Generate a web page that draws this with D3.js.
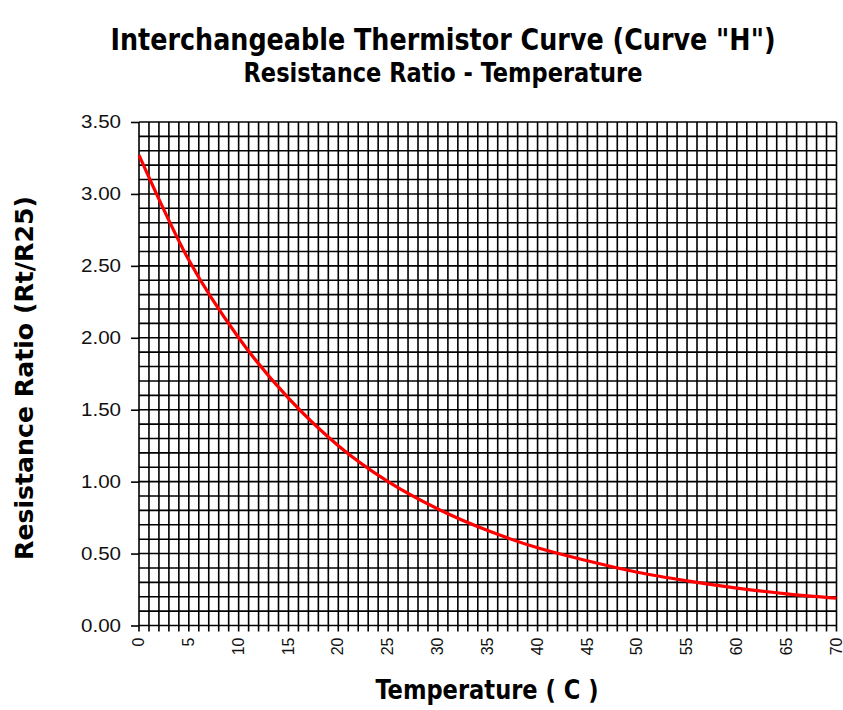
<!DOCTYPE html>
<html>
<head>
<meta charset="utf-8">
<script src="https://cdn.jsdelivr.net/npm/d3@7"></script>
<style>
  html, body { margin: 0; padding: 0; background: #fff; }
  svg { display: block; }
</style>
</head>
<body>
<div id="chart"></div>
<script>
'use strict';

// ─── DATA ────────────────────────────────────────────────────
var temperatures = [0, 5, 10, 15, 20, 25, 30, 35, 40, 45, 50, 55, 60, 65, 70];
var ratios = [3.27, 2.54, 2.00, 1.58, 1.25, 1.00, 0.81, 0.66, 0.54, 0.45, 0.37, 0.31, 0.26, 0.22, 0.19];
var yTickValues = [0, 0.5, 1.0, 1.5, 2.0, 2.5, 3.0, 3.5];
var xLabelValues = [0, 5, 10, 15, 20, 25, 30, 35, 40, 45, 50, 55, 60, 65, 70];

var titleText = 'Interchangeable Thermistor Curve (Curve "H")';
var subtitleText = 'Resistance Ratio - Temperature';
var xAxisTitle = 'Temperature ( C )';
var yAxisTitle = 'Resistance Ratio (Rt/R25)';

// ─── LAYOUT ──────────────────────────────────────────────────
var width = 843, height = 710;
var margin = { top: 122, right: 6.5, bottom: 84.5, left: 139 };
var innerW = width - margin.left - margin.right;
var innerH = height - margin.top - margin.bottom;
var font = 'Liberation Sans, Arial, sans-serif';
var narrow = '"Liberation Sans Narrow", "DejaVu Sans Condensed", "Liberation Sans", sans-serif';

var svg = d3.select('#chart').append('svg')
    .attr('width', width)
    .attr('height', height);

var x = d3.scaleLinear().domain([0, 70]).range([0, innerW]);
var y = d3.scaleLinear().domain([0, 3.5]).range([innerH, 0]);

var g = svg.append('g')
    .attr('transform', 'translate(' + margin.left + ',' + margin.top + ')');

// ─── GRID ────────────────────────────────────────────────────
// vertical every 1 degree (runs past the bottom as minor ticks), horizontal every 0.1
var xGrid = d3.range(0, 71, 1);
var yGrid = d3.range(0, 36, 1).map(function(d) { return d / 10; });

g.append('g').attr('class', 'grid-v')
    .selectAll('line').data(xGrid).enter().append('line')
    .attr('x1', function(d) { return x(d); })
    .attr('x2', function(d) { return x(d); })
    .attr('y1', 0).attr('y2', innerH + 6)
    .attr('stroke', '#000').attr('stroke-width', 1.6);

g.append('g').attr('class', 'grid-h')
    .selectAll('line').data(yGrid).enter().append('line')
    .attr('x1', 0).attr('x2', innerW)
    .attr('y1', function(d) { return y(d); })
    .attr('y2', function(d) { return y(d); })
    .attr('stroke', '#000').attr('stroke-width', 1.6);

// ─── AXES ────────────────────────────────────────────────────
var yAxis = d3.axisLeft(y)
    .tickValues(yTickValues)
    .tickSize(8)
    .tickPadding(10)
    .tickFormat(d3.format('.2f'));

var yG = g.append('g').call(yAxis);
yG.select('.domain').remove();
yG.selectAll('line').attr('stroke', '#000').attr('stroke-width', 1.6);
yG.selectAll('text')
    .attr('font-family', font)
    .attr('font-size', 18)
    .attr('fill', '#111')
    .attr('textLength', 40)
    .attr('lengthAdjust', 'spacingAndGlyphs');

var xAxis = d3.axisBottom(x)
    .tickValues(xLabelValues)
    .tickSize(0)
    .tickPadding(0);

var xG = g.append('g')
    .attr('transform', 'translate(0,' + innerH + ')')
    .call(xAxis);
xG.select('.domain').remove();
xG.selectAll('text')
    .attr('font-family', font)
    .attr('font-size', 16)
    .attr('fill', '#111')
    .attr('text-anchor', 'end')
    .attr('dy', '0.35em')
    .attr('transform', 'translate(-1,12) rotate(-90)')
    .attr('x', 0)
    .attr('y', 0);

// ─── CURVE ───────────────────────────────────────────────────
var line = d3.line()
    .x(function(d, i) { return x(temperatures[i]); })
    .y(function(d) { return y(d); })
    .curve(d3.curveMonotoneX);

g.append('path')
    .datum(ratios)
    .attr('d', line)
    .attr('fill', 'none')
    .attr('stroke', '#ff0000')
    .attr('stroke-width', 3.2);

// ─── TITLES ──────────────────────────────────────────────────
function boldText(txt, size, len) {
    return svg.append('text')
        .attr('text-anchor', 'middle')
        .attr('font-family', narrow)
        .attr('font-weight', 'bold')
        .attr('font-size', size)
        .attr('textLength', len)
        .attr('lengthAdjust', 'spacingAndGlyphs')
        .text(txt);
}

boldText(titleText, 31, 665).attr('x', 443).attr('y', 50);
boldText(subtitleText, 26, 399).attr('x', 443).attr('y', 82);
boldText(xAxisTitle, 26, 223).attr('x', 487).attr('y', 699);
boldText(yAxisTitle, 25, 364).attr('transform', 'translate(33,378) rotate(-90)');
</script>
</body>
</html>
